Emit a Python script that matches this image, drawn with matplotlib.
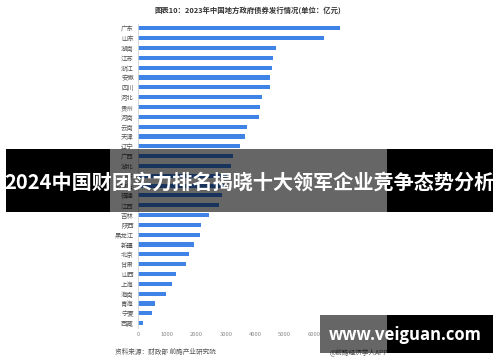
import matplotlib
matplotlib.use('Agg')
import matplotlib.pyplot as plt
from matplotlib.patches import Rectangle

plt.rcParams['font.family'] = ['Noto Sans CJK SC', 'DejaVu Sans']

# 2023 local government bond issuance by province (100 million yuan)
provinces = ['广东', '山东', '湖南', '江苏', '浙江', '安徽', '四川', '河北', '贵州', '河南',
             '云南', '天津', '辽宁', '广西', '湖北', '重庆', '内蒙古', '福建', '江西', '吉林',
             '陕西', '黑龙江', '新疆', '北京', '甘肃', '山西', '上海', '海南', '青海', '宁夏', '西藏']
values = [6890, 6350, 4710, 4600, 4580, 4520, 4500, 4230, 4160, 4120,
          3720, 3640, 3490, 3230, 3170, 3050, 2950, 2860, 2760, 2410,
          2160, 2130, 1910, 1740, 1640, 1300, 1150, 960, 590, 480, 160]
xticks = [0, 1000, 2000, 3000, 4000, 5000, 6000, 7000]

W, H = 500, 362
fig = plt.figure(figsize=(5, 3.62), dpi=100)
ax = fig.add_axes([138 / W, 1 - 328 / H, (343 - 138) / W, (328 - 23.5) / H])

ypos = list(range(len(provinces)))
ax.barh(ypos, values, height=0.42, color='#3f83e6')
ax.set_ylim(len(provinces) - 0.5, -0.5)
ax.set_xlim(0, 7000)
ax.set_yticks(ypos)
ax.set_yticklabels(provinces, fontsize=4.6, color='#555555')
ax.set_xticks(xticks)
ax.set_xticklabels([str(t) for t in xticks], fontsize=4.2, color='#888888')
ax.tick_params(length=0, pad=3)
for s in ['top', 'right', 'bottom']:
    ax.spines[s].set_visible(False)
ax.spines['left'].set_color('#d0d0d0')
ax.spines['left'].set_linewidth(0.6)

fig.text(248 / W, 1 - 10 / H, '图表10：2023年中国地方政府债券发行情况(单位：亿元)',
         ha='center', va='center', fontsize=5.3, fontweight='bold', color='#333333')
fig.text(115 / W, 1 - 352 / H, '资料来源：财政部 前瞻产业研究院',
         ha='left', va='center', fontsize=4.8, color='#555555')
fig.text(330 / W, 1 - 352 / H, '@前瞻经济学人APP',
         ha='left', va='center', fontsize=4.8, color='#555555')


def box(x0, y0, x1, y1, color, alpha=1.0):
    fig.add_artist(Rectangle((x0 / W, 1 - y1 / H), (x1 - x0) / W, (y1 - y0) / H,
                             transform=fig.transFigure, facecolor=color,
                             alpha=alpha, edgecolor='none', zorder=5))


# banner over the chart
box(6, 149, 110, 212, 'black')
box(110, 149, 387, 212, 'black', 0.6)
box(387, 149, 493, 212, 'black')
fig.text(249 / W, 1 - 182 / H, '2024中国财团实力排名揭晓十大领军企业竞争态势分析',
         ha='center', va='center', fontsize=14.5, fontweight='bold', color='white', zorder=6)

# site badge bottom right
box(320, 315, 387, 353, 'black', 0.6)
box(387, 315, 493, 353, 'black')
fig.text(405 / W, 1 - 335 / H, 'www.veiguan.com', ha='center', va='center',
         fontsize=12, fontweight='bold', color='white', family=['Open Sans', 'DejaVu Sans'], zorder=6)

fig.savefig('out.png', dpi=100)
